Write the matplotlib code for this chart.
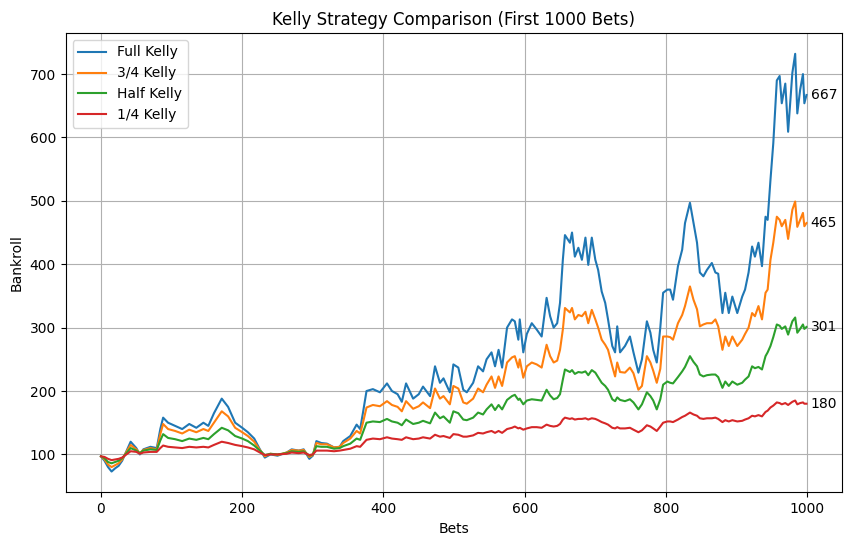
import matplotlib
matplotlib.use("Agg")
import matplotlib.pyplot as plt

bets = [0, 5, 10, 15, 20, 25, 30, 36, 42, 50, 55, 60, 70, 79, 84, 88, 95, 105, 115, 125,
        135, 145, 152, 160, 171, 180, 190, 200, 208, 217, 225, 232, 240, 250, 263, 270, 280, 287, 295, 300,
        305, 312, 320, 330, 338, 343, 353, 362, 367, 371, 376, 385, 395, 405, 412, 420, 426, 432, 442, 450,
        456, 466, 473, 480, 485, 494, 499, 506, 513, 518, 527, 534, 541, 546, 553, 558, 563, 568, 575, 582,
        586, 591, 593, 598, 603, 610, 617, 624, 631, 636, 641, 646, 650, 654, 657, 664, 667, 671, 676, 681,
        686, 690, 695, 700, 704, 709, 714, 718, 724, 728, 731, 735, 742, 749, 754, 761, 766, 773, 778, 782,
        787, 792, 796, 802, 806, 810, 817, 823, 827, 834, 839, 844, 848, 853, 858, 865, 870, 874, 880, 884,
        889, 894, 901, 908, 912, 917, 922, 926, 931, 936, 941, 944, 948, 952, 957, 961, 964, 969, 973, 979,
        983, 986, 990, 994, 996, 999]

full_kelly = [97, 90, 80, 73, 78, 82, 90, 105, 120, 110, 100, 108, 112, 110, 140, 158, 150, 145, 140, 148,
              142, 150, 145, 165, 188, 175, 150, 142, 135, 125, 108, 95, 100, 98, 103, 108, 106, 108, 93, 98,
              121, 118, 117, 111, 112, 121, 129, 147, 140, 166, 200, 203, 198, 212, 200, 195, 183, 212, 188, 195,
              207, 192, 239, 213, 220, 198, 242, 237, 202, 198, 213, 239, 231, 250, 261, 239, 265, 237, 300, 313,
              310, 281, 313, 261, 290, 307, 297, 286, 347, 318, 300, 307, 339, 407, 446, 434, 450, 412, 426, 407,
              442, 399, 442, 407, 391, 357, 339, 313, 271, 261, 302, 261, 271, 286, 261, 229, 250, 310, 292, 265,
              245, 300, 355, 360, 360, 344, 397, 423, 465, 497, 465, 434, 387, 381, 391, 402, 387, 385, 323, 355,
              323, 349, 323, 349, 360, 387, 428, 412, 434, 397, 475, 470, 533, 591, 690, 697, 654, 685, 609, 702,
              732, 638, 675, 700, 654, 667]

three_quarter_kelly = [97, 92, 84, 80, 83, 86, 92, 104, 115, 108, 102, 107, 110, 108, 132, 148, 140, 137, 133, 139,
                       135, 140, 137, 150, 168, 160, 142, 135, 129, 120, 107, 97, 101, 99, 103, 107, 106, 107, 96, 99,
                       118, 116, 116, 111, 112, 118, 125, 137, 133, 150, 174, 178, 176, 184, 178, 175, 168, 184, 172, 176,
                       182, 173, 204, 188, 192, 179, 208, 204, 182, 180, 188, 204, 198, 210, 223, 205, 223, 208, 245, 253,
                       255, 237, 250, 221, 239, 245, 242, 237, 273, 255, 245, 248, 265, 297, 331, 324, 331, 313, 320, 318,
                       325, 307, 328, 313, 300, 281, 273, 265, 239, 223, 245, 230, 229, 237, 228, 202, 208, 255, 245, 232,
                       213, 235, 286, 286, 285, 281, 307, 320, 334, 365, 344, 329, 302, 305, 307, 307, 313, 302, 265, 286,
                       271, 286, 271, 281, 290, 300, 323, 318, 334, 313, 355, 360, 407, 434, 475, 470, 460, 470, 440, 486,
                       499, 459, 470, 481, 460, 465]

half_kelly = [97, 94, 88, 86, 88, 90, 94, 102, 110, 106, 102, 106, 108, 107, 122, 132, 126, 124, 121, 125,
              123, 126, 124, 132, 142, 138, 129, 125, 121, 114, 106, 99, 101, 100, 102, 105, 104, 105, 98, 100,
              113, 112, 112, 109, 110, 113, 117, 125, 123, 135, 150, 152, 151, 156, 152, 150, 146, 155, 148, 150,
              153, 149, 166, 157, 160, 150, 168, 165, 155, 154, 158, 166, 163, 171, 179, 170, 178, 171, 186, 192,
              194, 186, 188, 179, 185, 187, 186, 185, 202, 193, 187, 189, 195, 218, 234, 230, 233, 227, 230, 229,
              231, 225, 233, 229, 222, 213, 208, 202, 187, 184, 190, 186, 184, 187, 182, 171, 179, 198, 192, 185,
              171, 187, 210, 215, 213, 212, 222, 231, 238, 255, 246, 239, 226, 223, 225, 226, 226, 222, 205, 215,
              208, 215, 210, 213, 218, 223, 239, 236, 238, 234, 255, 261, 271, 285, 305, 303, 298, 302, 289, 310,
              316, 292, 298, 305, 298, 301]

quarter_kelly = [97, 96, 93, 91, 92, 93, 95, 100, 105, 104, 101, 103, 104, 104, 110, 114, 112, 111, 110, 112,
                 111, 112, 111, 115, 120, 118, 115, 113, 111, 108, 103, 99, 100, 100, 101, 103, 102, 103, 99, 100,
                 106, 106, 106, 105, 106, 107, 109, 113, 112, 117, 123, 125, 124, 127, 125, 124, 123, 127, 124, 125,
                 127, 125, 131, 128, 129, 126, 132, 131, 128, 128, 130, 134, 133, 135, 137, 134, 137, 134, 140, 142,
                 144, 141, 142, 139, 141, 143, 143, 142, 147, 145, 144, 145, 148, 155, 158, 156, 157, 155, 156, 156,
                 157, 155, 157, 156, 154, 151, 149, 147, 142, 141, 143, 141, 141, 142, 139, 135, 138, 146, 144, 141,
                 137, 144, 150, 152, 152, 151, 155, 159, 161, 166, 163, 161, 157, 156, 157, 157, 158, 156, 151, 154,
                 152, 154, 152, 153, 155, 157, 161, 160, 162, 160, 167, 169, 174, 177, 182, 181, 179, 181, 178, 183,
                 185, 179, 181, 182, 180, 180]

labels = ["Full Kelly", "3/4 Kelly", "Half Kelly", "1/4 Kelly"]
series = [full_kelly, three_quarter_kelly, half_kelly, quarter_kelly]

fig = plt.figure(figsize=(8.5, 5.47), dpi=100)
ax = fig.add_axes([0.0773, 0.0998, 0.913, 0.840])

for lab, vals in zip(labels, series):
    ax.plot(bets, vals, label=lab, linewidth=1.5)
    ax.text(bets[-1] + 6, vals[-1], f"{vals[-1]:.0f}", va="center", ha="left", fontsize=10)

ax.set_title("Kelly Strategy Comparison (First 1000 Bets)")
ax.set_xlabel("Bets")
ax.set_ylabel("Bankroll")
ax.grid(True)
ax.legend(loc="upper left")

fig.savefig("out.png", dpi=100)
